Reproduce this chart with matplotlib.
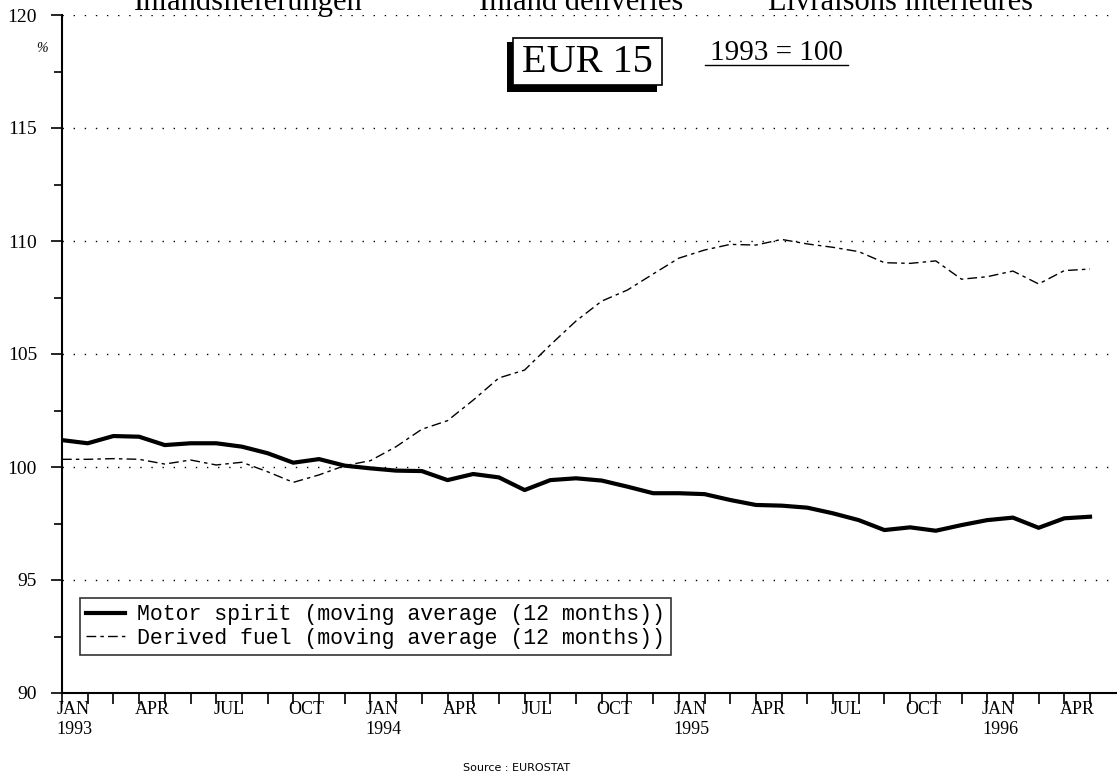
import matplotlib
matplotlib.use("Agg")
import matplotlib.pyplot as plt
from matplotlib.patches import Rectangle
from matplotlib.lines import Line2D

plt.rcParams["font.family"] = ["Liberation Serif", "DejaVu Serif"]

# monthly index values, JAN 1993 .. APR 1996 (plotted on the month boundaries)
motor_spirit = [101.19, 101.05, 101.37, 101.34, 100.97, 101.05, 101.05, 100.90, 100.61, 100.19,
                100.35, 100.06, 99.94, 99.84, 99.82, 99.42, 99.69, 99.54, 98.98, 99.42,
                99.50, 99.40, 99.13, 98.84, 98.84, 98.80, 98.54, 98.32, 98.29, 98.20,
                97.95, 97.65, 97.21, 97.33, 97.18, 97.43, 97.65, 97.76, 97.31, 97.73, 97.80]
derived_fuel = [100.34, 100.34, 100.37, 100.34, 100.13, 100.31, 100.09, 100.21, 99.79, 99.32,
                99.65, 100.06, 100.28, 100.90, 101.67, 102.05, 102.96, 103.94, 104.29, 105.40,
                106.46, 107.34, 107.83, 108.54, 109.24, 109.60, 109.85, 109.82, 110.07, 109.87,
                109.72, 109.53, 109.04, 109.01, 109.12, 108.31, 108.42, 108.67, 108.10, 108.69, 108.76]

month_labels = ["JAN\n1993", "APR", "JUL", "OCT", "JAN\n1994", "APR", "JUL", "OCT",
                "JAN\n1995", "APR", "JUL", "OCT", "JAN\n1996", "APR"]
label_months = list(range(0, 40, 3))
titles = ["Inlandslieferungen", "Inland deliveries", "Livraisons intérieures"]

W, H = 1117, 776
fig = plt.figure(figsize=(W / 100, H / 100), dpi=100)
ax = fig.add_axes([62 / W, 1 - 693 / H, 1 - 62 / W, (693 - 15) / H])

x = list(range(len(motor_spirit)))
ax.plot(x, motor_spirit, color="black", lw=3.0, solid_joinstyle="round",
        label="Motor spirit (moving average (12 months))")
ax.plot(x, derived_fuel, color="black", lw=1.0, dashes=(7, 3, 2.5, 3),
        label="Derived fuel (moving average (12 months))")

ax.set_xlim(0, 41.05)
ax.set_ylim(90, 120)

ax.set_yticks(range(90, 121, 5))
ax.set_yticks([92.5, 97.5, 102.5, 107.5, 112.5, 117.5], minor=True)
ax.tick_params(axis="y", which="major", direction="out", length=8, width=1.2,
               labelsize=14, pad=10)
ax.tick_params(axis="y", which="minor", direction="out", length=6, width=1.2)

ax.set_xticks(range(0, 41))
ax.set_xticklabels([])
ax.set_xticks([m + 0.5 for m in label_months], minor=True)
ax.set_xticklabels(month_labels, minor=True, multialignment="left")
ax.tick_params(axis="x", which="major", direction="out", length=8, width=1.2)
ax.tick_params(axis="x", which="minor", length=0, labelsize=13, pad=6)

for v in range(95, 121, 5):
    ax.axhline(v, color="black", lw=1.0, linestyle=(0, (1, 7)), zorder=0)

for s in ["top", "right"]:
    ax.spines[s].set_visible(False)
ax.spines["left"].set_linewidth(1.5)
ax.spines["bottom"].set_linewidth(1.5)

leg = ax.legend(loc="upper left", bbox_to_anchor=(80 / W, 1 - 598 / H),
                bbox_transform=fig.transFigure, borderaxespad=0, frameon=True,
                fancybox=False, prop={"family": "Liberation Mono", "size": 15.5},
                handlelength=1.8, handletextpad=0.55, labelspacing=0.1, borderpad=0.3)
leg.get_frame().set_edgecolor("black")
leg.get_frame().set_linewidth(1.2)

# header text, cut by the top edge of the page
for t, cx in zip(titles, [248, 581, 901]):
    fig.text(cx / W, 1 - 10 / H, t, ha="center", va="baseline", fontsize=22)

# EUR 15 box with shadow
fig.patches.append(Rectangle((507 / W, 1 - 92 / H), 150 / W, 50 / H,
                             transform=fig.transFigure, facecolor="black", edgecolor="none"))
fig.patches.append(Rectangle((513 / W, 1 - 85 / H), 149 / W, 47 / H,
                             transform=fig.transFigure, facecolor="white", edgecolor="black",
                             lw=1.2))
fig.text(587 / W, 1 - 62 / H, "EUR 15", ha="center", va="center", fontsize=29, zorder=5)

fig.text(776 / W, 1 - 53 / H, "1993 = 100", ha="center", va="center", fontsize=21)
fig.lines.append(Line2D([705 / W, 848 / W], [1 - 65 / H, 1 - 65 / H],
                        transform=fig.transFigure, color="black", lw=1.0))

fig.text(42 / W, 1 - 48 / H, "%", ha="center", va="center", fontsize=10, style="italic")
fig.text(517 / W, 1 - 768 / H, "Source : EUROSTAT", ha="center", va="center",
         fontsize=8, family="DejaVu Sans")

fig.savefig("out.png", dpi=100)
